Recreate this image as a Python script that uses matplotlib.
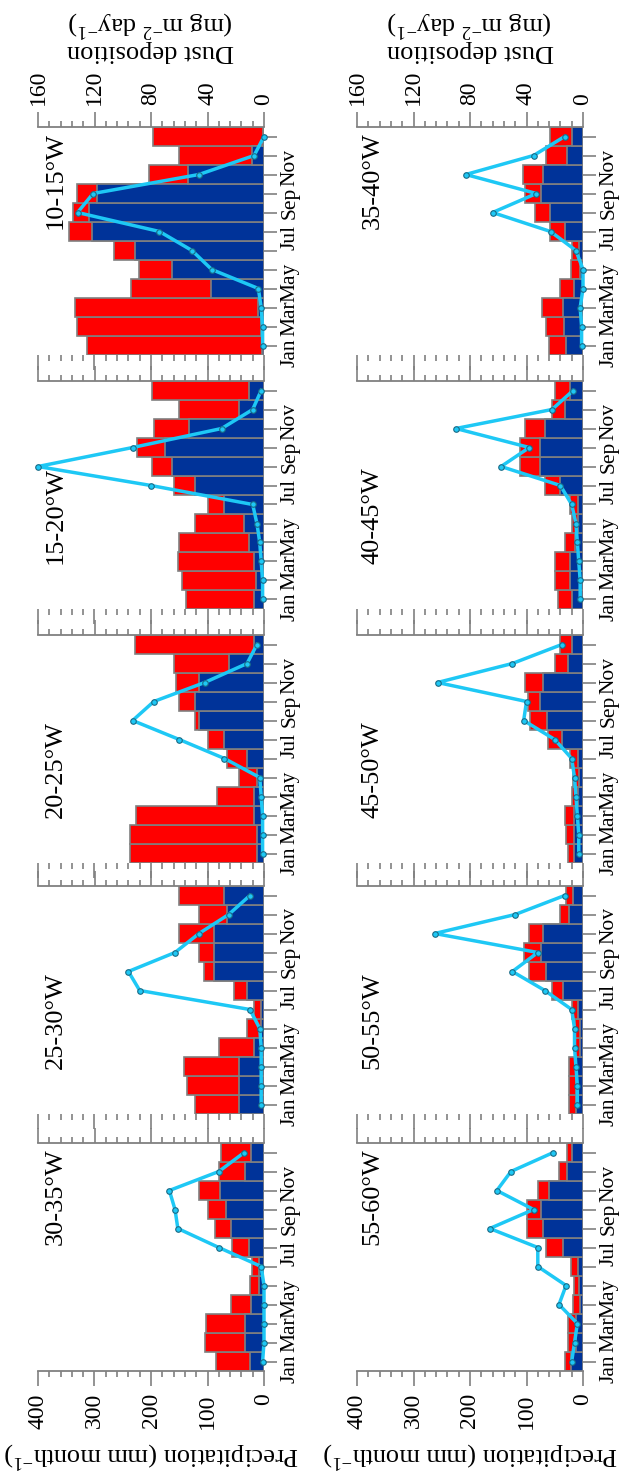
import numpy as np
import matplotlib
matplotlib.use("Agg")
import matplotlib.pyplot as plt
from matplotlib.ticker import MultipleLocator

plt.rcParams["font.family"] = ["Liberation Serif", "DejaVu Serif"]
plt.rcParams["mathtext.fontset"] = "custom"
plt.rcParams["mathtext.rm"] = "Liberation Serif"
plt.rcParams["mathtext.it"] = "Liberation Serif:italic"

months = ["Jan", "Feb", "Mar", "Apr", "May", "Jun",
          "Jul", "Aug", "Sep", "Oct", "Nov", "Dec"]
month_labels = ["Jan", "", "Mar", "", "May", "", "Jul", "", "Sep", "", "Nov", ""]

# left column (top to bottom), then right column
regions = ["10-15°W", "15-20°W", "20-25°W", "25-30°W", "30-35°W",
           "35-40°W", "40-45°W", "45-50°W", "50-55°W", "55-60°W"]

# total precipitation (top of red bar), mm month-1, Jan..Dec
precip_total = [
    [314, 331, 335, 236, 222, 266, 345, 338, 331, 204, 150, 197],
    [138, 145, 153, 150, 123, 100, 159, 199, 224, 194, 150, 199],
    [238, 238, 226, 83, 44, 65, 100, 123, 150, 155, 159, 229],
    [123, 136, 141, 79, 30, 18, 53, 106, 115, 150, 115, 150],
    [85, 104, 102, 58, 25, 21, 56, 86, 99, 115, 79, 76],
    [60, 65, 72, 41, 22, 19, 59, 85, 103, 106, 65, 58],
    [44, 49, 49, 32, 19, 23, 67, 111, 111, 102, 55, 49],
    [27, 30, 32, 19, 18, 23, 62, 93, 97, 102, 49, 40],
    [25, 25, 25, 15, 15, 20, 55, 95, 105, 95, 40, 30],
    [32, 26, 26, 18, 16, 21, 66, 99, 99, 79, 42, 29],
]

# blue part of the bar, mm month-1, Jan..Dec
precip_blue = [
    [4, 5, 10, 94, 162, 228, 305, 310, 296, 134, 21, 1],
    [18, 14, 18, 26, 35, 70, 123, 162, 176, 132, 44, 26],
    [12, 12, 18, 18, 12, 30, 70, 115, 123, 115, 62, 18],
    [44, 44, 44, 18, 5, 5, 30, 88, 88, 88, 65, 70],
    [25, 34, 34, 23, 9, 9, 26, 58, 67, 78, 34, 23],
    [30, 33, 35, 16, 6, 7, 32, 59, 75, 71, 28, 19],
    [20, 23, 23, 14, 8, 9, 40, 76, 76, 67, 32, 23],
    [16, 16, 16, 8, 7, 9, 37, 64, 76, 70, 26, 19],
    [12, 12, 12, 6, 6, 8, 35, 65, 75, 70, 25, 18],
    [21, 12, 12, 6, 7, 9, 35, 70, 75, 60, 28, 19],
]

# dust deposition, mg m-2 day-1, Jan..Dec
dust = [
    [1, 1, 2, 4, 37, 51, 74, 132, 121, 46, 7, 0],
    [1, 1, 2, 3, 5, 8, 80, 160, 93, 30, 8, 2],
    [1, 1, 1, 2, 3, 28, 60, 93, 78, 42, 12, 5],
    [2, 2, 2, 2, 3, 10, 88, 96, 63, 46, 25, 10],
    [1, 0, 0, 0, 0, 2, 32, 61, 63, 67, 32, 14],
    [1, 1, 2, 0, 0, 5, 23, 64, 33, 83, 35, 13],
    [2, 2, 3, 4, 5, 8, 16, 58, 38, 90, 22, 7],
    [3, 3, 4, 5, 6, 8, 20, 42, 40, 103, 50, 15],
    [4, 4, 5, 6, 6, 8, 27, 50, 32, 105, 48, 13],
    [8, 6, 4, 17, 12, 32, 32, 66, 35, 61, 51, 21],
]

RED = "#ff0000"
BLUE = "#003399"
LINE = "#1ec8f5"
GRAY = "#808080"


def draw_panel(ax, region, total, blue, dep, title_pos, bottom_row, top_row):
    m = np.arange(1, 13)
    ax.barh(m, total, height=1.0, color=RED, edgecolor=GRAY, linewidth=1.2, zorder=2)
    ax.barh(m, blue, height=1.0, color=BLUE, edgecolor=GRAY, linewidth=1.2, zorder=3)
    ax.set_xlim(400, 0)
    ax.set_ylim(0.5, 12.5)

    for side in ["top", "left", "right"]:
        ax.spines[side].set_visible(False)
    ax.spines["bottom"].set_visible(bottom_row)
    ax.spines["bottom"].set_color(GRAY)
    ax.spines["bottom"].set_linewidth(1.3)

    ax.xaxis.set_major_locator(MultipleLocator(100))
    ax.xaxis.set_minor_locator(MultipleLocator(20))
    ax.tick_params(axis="x", which="major", direction="out", length=11, width=1.2,
                   color=GRAY, labelsize=17, labelrotation=90, pad=5,
                   bottom=bottom_row, labelbottom=bottom_row)
    ax.tick_params(axis="x", which="minor", direction="out", length=4, width=1.2,
                   color=GRAY, bottom=bottom_row)

    ax.yaxis.tick_right()
    ax.set_yticks(m)
    ax.set_yticklabels(month_labels)
    ax.tick_params(axis="y", which="major", direction="out", length=9, width=1.2,
                   color=GRAY, labelsize=15.5, labelrotation=90, pad=3,
                   left=False, right=True)

    ax.text(title_pos[0], title_pos[1], region, transform=ax.transAxes, rotation=90,
            ha="center", va="center", fontsize=19)

    ax2 = ax.twiny()
    ax2.plot(dep, m, color=LINE, lw=2.5, marker="o", ms=4, mfc=LINE,
             mec="#1a6a85", mew=0.8, clip_on=False, zorder=5)
    ax2.set_xlim(160, 0)
    for side in ["bottom", "left", "right"]:
        ax2.spines[side].set_visible(False)
    ax2.spines["top"].set_color(GRAY)
    ax2.spines["top"].set_linewidth(1.3)
    ax2.xaxis.set_major_locator(MultipleLocator(40))
    ax2.xaxis.set_minor_locator(MultipleLocator(8))
    ax2.tick_params(axis="x", which="major", direction="out", length=11, width=1.2,
                    color=GRAY, labelsize=17, labelrotation=90, pad=5,
                    top=True, labeltop=top_row)
    ax2.tick_params(axis="x", which="minor", direction="out", length=4, width=1.2,
                    color=GRAY, top=True)


def main():
    W, H = 622, 1475
    fig = plt.figure(figsize=(W / 100, H / 100), dpi=100)

    col_x = [38, 357]
    ax_w = 226
    row_top = [127, 381, 635, 886, 1143]
    ax_h = 228
    title_x = [0.08, 0.068]
    # title height within the panel (outer panels high, middle ones lower)
    title_y = [0.765, 0.41, 0.41, 0.41, 0.765]

    for i, region in enumerate(regions):
        col, row = divmod(i, 5)
        rect = [col_x[col] / W, 1 - (row_top[row] + ax_h) / H, ax_w / W, ax_h / H]
        ax = fig.add_axes(rect)
        draw_panel(ax, region, precip_total[i], precip_blue[i], dust[i],
                   (title_x[col], title_y[row]), row == 4, row == 0)

    for col in range(2):
        cx = (col_x[col] + ax_w / 2) / W
        fig.text(cx, 1 - 35 / H, "Dust deposition\n(mg m$^{-2}$ day$^{-1}$)",
                 rotation=180, ha="center", va="center", fontsize=19,
                 linespacing=1.05)
        fig.text(cx, 1 - 1455 / H, "Precipitation (mm month$^{-1}$)",
                 rotation=180, ha="center", va="center", fontsize=19)

    fig.savefig("out.png", dpi=100)


if __name__ == "__main__":
    main()
